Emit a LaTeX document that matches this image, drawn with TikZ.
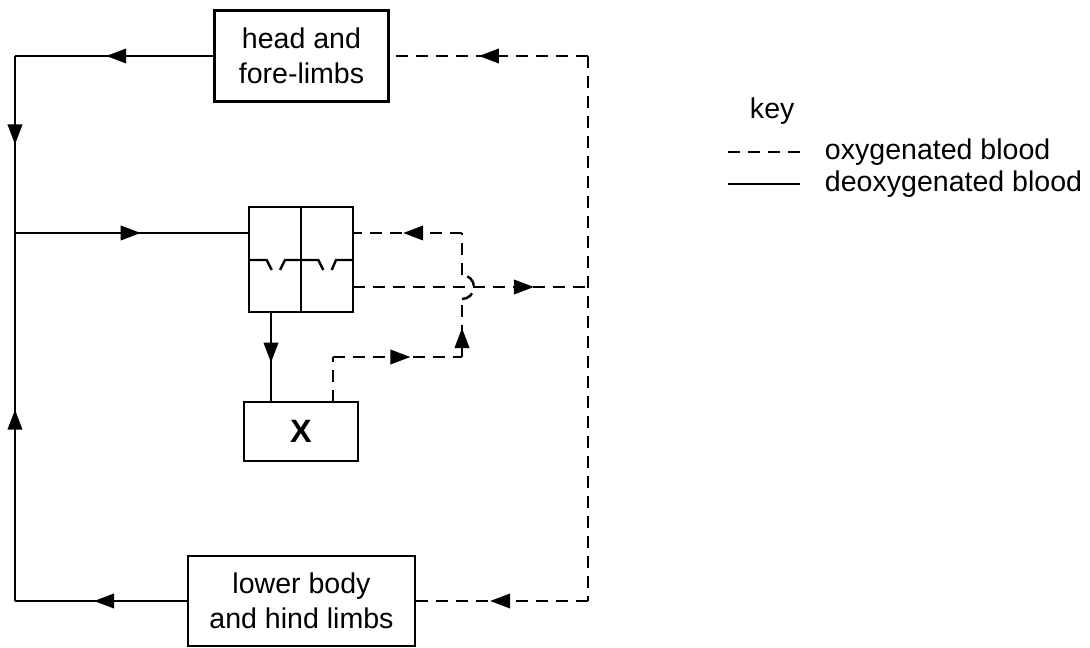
\documentclass[tikz,border=0pt]{standalone}
\usepackage{fontspec}
\setmainfont{Liberation Sans}
\usetikzlibrary{arrows.meta,decorations.markings,calc}
\newcommand{\labelfont}{\fontsize{20.3}{24.9}\selectfont}
\tikzstyle{organ} = [rectangle, draw=black, line width=1.7pt, align=center, inner sep=0pt, font=\labelfont]
\tikzstyle{deoxy} = [line width=1.7pt]
\tikzstyle{oxy} = [line width=1.7pt, dash pattern=on 0.3cm off 0.2cm]
\tikzset{flow/.style={postaction={decorate}, decoration={markings, mark=at position #1 with {\arrow{Triangle[length=0.5cm,width=0.36cm]}}}}}

\begin{document}
\begin{tikzpicture}[x=0.025cm, y=-0.025cm]
  \useasboundingbox (0,0) rectangle (1090,648);
  % organs
  \node (head)[organ, minimum width=4.35cm, minimum height=2.275cm] at (301.5,56) {head and\\fore-limbs};
  \node (heart)[organ, minimum width=2.6cm, minimum height=2.625cm] at (301,259.5) {};
  \node (X)[organ, minimum width=2.85cm, minimum height=1.475cm, font=\fontsize{23}{27}\selectfont\bfseries] at (301,431.5) {X};
  \node (lower)[organ, minimum width=5.675cm, minimum height=2.25cm] at (301.5,601) {lower body\\and hind limbs};
  % heart inside
  \draw[deoxy] (heart.north) -- (heart.south);
  \draw[deoxy] (249,260) -- (266.7,260) -- (271.7,270);
  \draw[deoxy] (280,270) -- (285,260) -- (318.3,260) -- (323.3,270);
  \draw[deoxy] (331.7,270) -- (336,260) -- (353,260);
  % corners and junctions
  \coordinate (tl) at (15,56);
  \coordinate (bl) at (15,601);
  \coordinate (jn) at (15,233);
  \coordinate (tr) at (588,56);
  \coordinate (br) at (588,601);
  \coordinate (jr) at (588,287);
  \coordinate (hin) at (353,233);
  \coordinate (hout) at (353,287);
  \coordinate (vout) at (271,312);
  \coordinate (xout) at (333,402);
  \coordinate (xbend) at (333,357);
  \coordinate (lbend) at (462,357);
  \coordinate (hopb) at (462,299);
  \coordinate (hopt) at (462,275);
  \coordinate (lbend2) at (462,233);
  % deoxygenated blood
  \draw[deoxy, flow=0.54] (head.west) -- (tl);
  \draw[deoxy, flow=0.5] (tl) -- (jn);
  \draw[deoxy, flow=0.54] (jn) -- (heart.west |- jn);
  \draw[deoxy, flow=0.54] (lower.west) -- (bl);
  \draw[deoxy, flow=0.52] (bl) -- (jn);
  \draw[deoxy, flow=0.57] (vout) -- (vout |- X.north);
  % oxygenated blood
  \draw[oxy] (xout) -- (xbend);
  \draw[oxy, flow=0.6] (xbend) -- (lbend);
  \draw[oxy, flow=0.5] (lbend) -- (hopb);
  \draw[oxy] (hopb) arc (90:-90:12);
  \draw[oxy] (hopt) -- (lbend2);
  \draw[oxy, flow=0.54] (lbend2) -- (hin);
  \draw[oxy, flow=0.77] (hout) -- (jr);
  \draw[oxy] (tr) -- (br);
  \draw[oxy, flow=0.55] (tr) -- (head.east);
  \draw[oxy, flow=0.57] (br) -- (lower.east);
  % key
  \node (keytitle)[anchor=base west, font=\labelfont] at (745,119) {key};
  \node (oxylabel)[anchor=base west, font=\labelfont] at (820,160) {oxygenated blood};
  \node (deoxylabel)[anchor=base west, font=\labelfont] at (820,192) {deoxygenated blood};
  \draw[oxy] (728,152) -- (800,152);
  \draw[deoxy] (728,184) -- (800,184);
\end{tikzpicture}
\end{document}
